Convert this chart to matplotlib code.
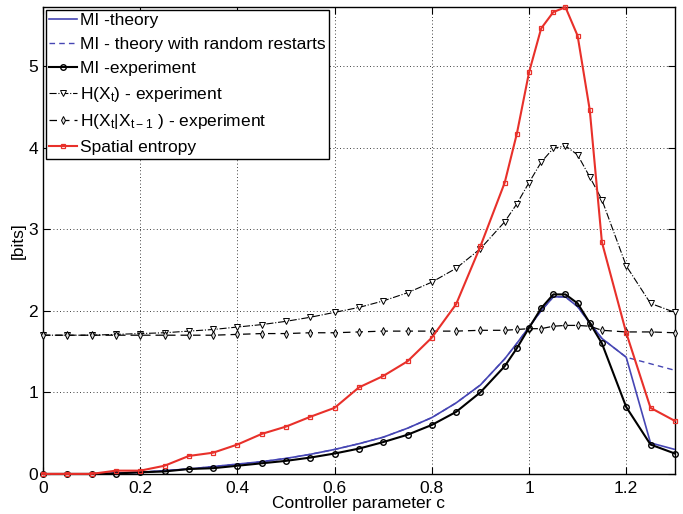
import matplotlib
matplotlib.use("Agg")
import matplotlib.pyplot as plt
import numpy as np

plt.rcParams['font.family'] = ['Liberation Sans', 'DejaVu Sans']
plt.rcParams['mathtext.default'] = 'regular'

# x positions (coarse 0.05 steps, finer 0.025 steps near the peak)
c = [0.0, 0.05, 0.1, 0.15, 0.2, 0.25, 0.3, 0.35, 0.4, 0.45, 0.5, 0.55, 0.6, 0.65,
     0.7, 0.75, 0.8, 0.85, 0.9, 0.95, 0.975, 1.0, 1.025, 1.05, 1.075, 1.1, 1.125,
     1.15, 1.2, 1.25, 1.3]

mi_theory = [0.0, 0.0, 0.0, 0.01, 0.02, 0.04, 0.06, 0.09, 0.12, 0.15, 0.19, 0.24,
             0.30, 0.37, 0.45, 0.56, 0.69, 0.87, 1.09, 1.41, 1.60, 1.80, 2.00, 2.17,
             2.17, 2.05, 1.85, 1.66, 1.43, 0.38, 0.30]
mi_theory_restart = [0.0, 0.0, 0.0, 0.01, 0.02, 0.04, 0.06, 0.09, 0.12, 0.15, 0.19, 0.24,
                     0.30, 0.37, 0.45, 0.56, 0.69, 0.87, 1.09, 1.41, 1.60, 1.80, 2.00, 2.17,
                     2.17, 2.05, 1.85, 1.66, 1.43, 1.35, 1.27]
mi_exp = [0.0, 0.0, 0.0, 0.005, 0.02, 0.03, 0.06, 0.07, 0.10, 0.13, 0.16, 0.20,
          0.25, 0.31, 0.39, 0.48, 0.60, 0.76, 1.00, 1.32, 1.54, 1.79, 2.03, 2.20,
          2.20, 2.09, 1.85, 1.60, 0.82, 0.36, 0.25]
h_xt = [1.70, 1.70, 1.70, 1.71, 1.72, 1.73, 1.75, 1.77, 1.80, 1.83, 1.87, 1.92,
        1.98, 2.04, 2.12, 2.22, 2.35, 2.52, 2.76, 3.09, 3.31, 3.57, 3.82, 3.99,
        4.02, 3.91, 3.64, 3.36, 2.55, 2.09, 1.98]
h_cond = [1.70, 1.70, 1.70, 1.70, 1.70, 1.70, 1.70, 1.70, 1.71, 1.72, 1.72, 1.73,
          1.73, 1.74, 1.75, 1.75, 1.75, 1.75, 1.76, 1.76, 1.77, 1.78, 1.78, 1.81,
          1.82, 1.82, 1.81, 1.76, 1.74, 1.74, 1.73]
spatial = [0.0, 0.0, 0.0, 0.04, 0.04, 0.10, 0.22, 0.26, 0.36, 0.49, 0.58, 0.70,
           0.81, 1.06, 1.20, 1.38, 1.67, 2.08, 2.79, 3.57, 4.17, 4.92, 5.46, 5.66,
           5.72, 5.37, 4.46, 2.84, 1.73, 0.81, 0.65]

blue = '#4646b4'
red = '#e8302a'

fig = plt.figure(figsize=(6.83, 5.14), dpi=100)
ax = fig.add_axes([0.063, 0.078, 0.925, 0.908])

ax.plot(c, mi_theory_restart, color=blue, lw=1.0, ls=(0, (4, 3)), zorder=2)
ax.plot(c, mi_theory, color=blue, lw=1.2, label='MI -theory', zorder=3)
ax.plot([], [], color=blue, lw=1.0, ls=(0, (4, 3)), label='MI - theory with random restarts')
ax.plot(c, mi_exp, color='black', lw=1.5, marker='o', ms=4, mfc='none', mew=1.0,
        label='MI -experiment', zorder=4, clip_on=False)
ax.plot(c, h_xt, color='black', lw=0.8, ls='-.', marker='v', ms=4, mfc='white', mew=0.7,
        label='H(X$_t$) - experiment', zorder=3, clip_on=False)
ax.plot(c, h_cond, color='black', lw=0.9, ls=(0, (6, 4)), marker='d', ms=4, mfc='#dddddd', mew=0.7,
        label='H(X$_t$|X$_{t-1}$ ) - experiment', zorder=3, clip_on=False)
ax.plot(c, spatial, color=red, lw=1.5, marker='s', ms=3.5, mfc='none', mew=0.9,
        label='Spatial entropy', zorder=5, clip_on=False)

ax.set_xlim(0, 1.3)
ax.set_ylim(0, 5.72)
ax.set_xticks([0, 0.2, 0.4, 0.6, 0.8, 1.0, 1.2])
ax.set_xticklabels(['0', '0.2', '0.4', '0.6', '0.8', '1', '1.2'])
ax.set_yticks([0, 1, 2, 3, 4, 5])
ax.tick_params(direction='in', top=True, right=True, labelsize=12.5, length=5, width=0.8)
ax.tick_params(axis='x', pad=5)
ax.grid(True, ls=(0, (1, 3)), color='black', lw=0.6)
for s in ax.spines.values():
    s.set_linewidth(1.0)

ax.set_xlabel('Controller parameter c', fontsize=12.5, labelpad=0)
ax.set_ylabel('[bits]', fontsize=12.5, labelpad=2)

leg = ax.legend(loc='upper left', fontsize=12.5, handlelength=1.6, handletextpad=0.2,
                borderpad=0.2, labelspacing=0.5, borderaxespad=0.15, fancybox=False,
                framealpha=1, edgecolor='black')
leg.get_frame().set_linewidth(1.0)

fig.savefig('out.png', dpi=100)
